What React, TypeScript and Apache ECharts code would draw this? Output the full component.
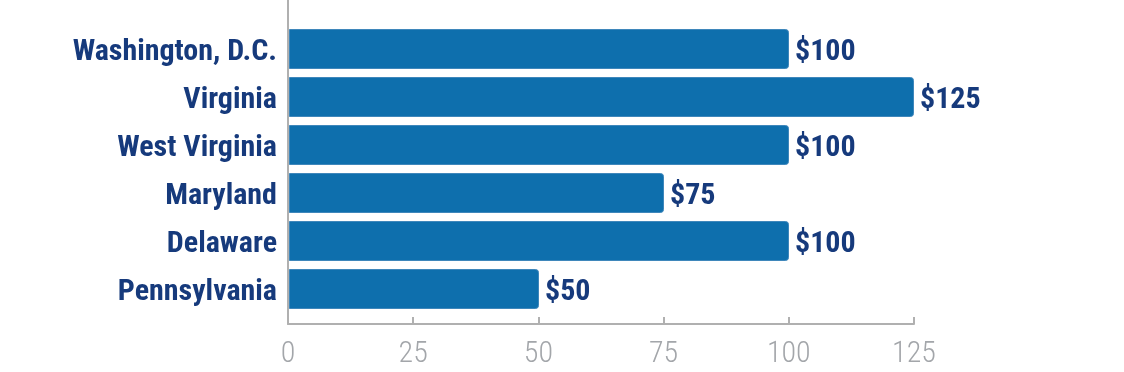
import React, { useEffect, useRef } from "react";
import * as echarts from "echarts";

const categories = ["Washington, D.C.", "Virginia", "West Virginia", "Maryland", "Delaware", "Pennsylvania"];
const values = [100, 125, 100, 75, 100, 50];
const xTicks = [0, 25, 50, 75, 100, 125];

const FONT = "'Roboto Condensed', 'Liberation Sans Narrow', 'DejaVu Sans Condensed', Roboto, sans-serif";

export default function App() {
  const ref = useRef<HTMLDivElement>(null);
  useEffect(() => {
    if (!ref.current) return;
    const chart = echarts.init(ref.current, undefined, { renderer: "svg" });
    chart.setOption({
      animation: false,
      grid: [
        { left: 289, width: 625, top: 25, height: 288 },
        { left: 288, width: 626, top: 0, height: 324 },
      ],
      xAxis: [
        { type: "value", gridIndex: 0, min: 0, max: 125, interval: 25, show: false },
        {
          type: "value",
          gridIndex: 1,
          min: xTicks[0],
          max: xTicks[xTicks.length - 1],
          interval: 25,
          splitLine: { show: false },
          axisLine: { show: true, lineStyle: { color: "#b0b0b0", width: 2 } },
          axisTick: { show: true, inside: true, length: 7, lineStyle: { color: "#b0b0b0", width: 2 } },
          axisLabel: { color: "#a3a6aa", fontSize: 30, fontFamily: FONT, fontWeight: 300, margin: 12 },
        },
      ],
      yAxis: [
        {
          type: "category",
          gridIndex: 0,
          data: categories,
          inverse: true,
          axisLine: { show: false },
          axisTick: { show: false },
          axisLabel: { color: "#163a7c", fontSize: 30, fontWeight: "bold", fontFamily: FONT, margin: 12 },
        },
        {
          type: "value",
          gridIndex: 1,
          axisLine: { show: true, lineStyle: { color: "#b0b0b0", width: 2 } },
          axisTick: { show: false },
          axisLabel: { show: false },
          splitLine: { show: false },
        },
      ],
      series: [
        {
          type: "bar",
          xAxisIndex: 0,
          yAxisIndex: 0,
          data: values,
          barWidth: 40,
          itemStyle: { color: "#0e6fad", borderRadius: [0, 3, 3, 0], borderColor: "#3f87bb", borderWidth: 1 },
          label: {
            show: true,
            position: "right",
            distance: 6,
            formatter: (p: any) => "$" + p.value,
            color: "#163a7c",
            fontSize: 30,
            fontWeight: "bold",
            fontFamily: FONT,
          },
        },
      ],
    });
    return () => chart.dispose();
  }, []);
  return <div ref={ref} style={{ position: "fixed", left: 0, top: 0, width: 1124, height: 372 }} />;
}
